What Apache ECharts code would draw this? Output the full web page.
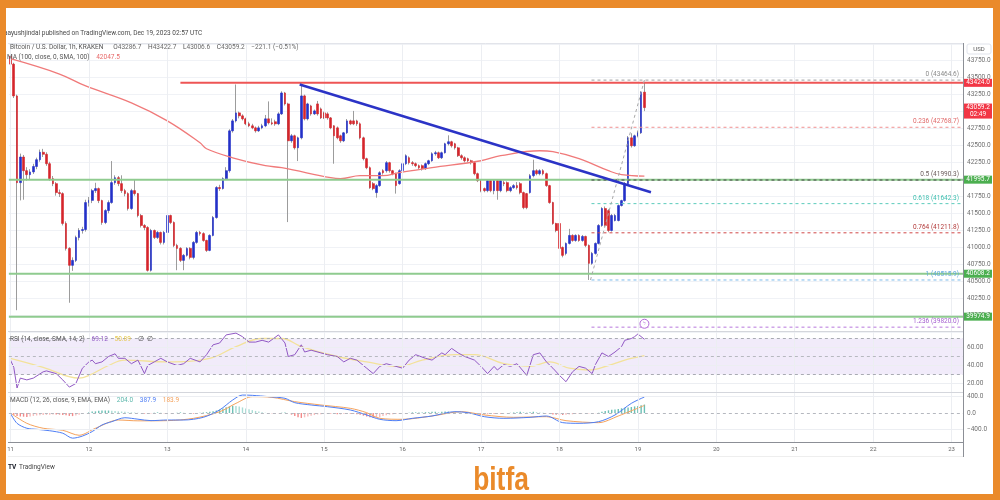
<!DOCTYPE html>
<html>
<head>
<meta charset="utf-8">
<script src="https://cdn.jsdelivr.net/npm/echarts@6/dist/echarts.min.js"></script>
<style>
html,body{margin:0;padding:0;background:#fff;}
#chart{width:1000px;height:500px;}
</style>
</head>
<body>
<div id="chart"></div>
<script>
// ---------------- data ----------------
const dayLabels = ['11','12','13','14','15','16','17','18','19','20','21','22','23'];
const dayHours  = [0,24,48,72,96,120,144,168,192,216,240,264,288];

const openP = [43820,43700,43231,41952,42330,42128,42070,42110,42190,42290,
42400,42370,42231,42011,41937,41805,41790,41350,40982,40732,
40805,41143,41246,41260,41658,41690,41834,41864,41687,41364,
41540,41658,41952,42025,41937,41834,41790,41570,41834,41790,
41467,41320,41290,40658,41246,41143,41217,41070,41217,41467,
41364,41026,40982,40805,40879,40982,40849,41070,41217,41200,
41099,40952,41173,41437,41880,41864,42011,42128,42716,42863,
42981,42937,42893,42820,42790,42760,42716,42760,42790,42893,
42834,42850,42819,42966,43275,43113,42569,42643,42466,42613,
43231,42893,43084,42966,43113,43040,42981,42966,42907,42790,
42760,42643,42569,42687,42863,42863,42863,42819,42613,42305,
42172,41937,41805,41908,42128,42128,42246,42128,42084,41937,
42128,42231,42319,42246,42231,42202,42202,42158,42231,42275,
42378,42393,42319,42393,42525,42555,42525,42466,42349,42319,
42305,42275,42246,42084,41981,41864,41834,41981,41834,41981,
41834,41952,41952,41834,41878,41908,41937,41805,41790,41805,
42055,42128,42084,42128,42084,41908,41658,41349,41349,40996,
40908,41055,41173,41099,41173,41099,41158,41026,40761,40908,
41055,41320,41570,41540,41246,41393,41393,41614,41687,41937,
42613,42496,42643,42687,43286.7];
const closeP = [43700,43231,41952,42330,42128,42070,42110,42190,42290,42400,
42370,42231,42011,41937,41805,41790,41350,40982,40732,40805,
41143,41246,41260,41658,41690,41834,41864,41687,41364,41540,
41658,41952,42025,41937,41834,41790,41570,41834,41790,41467,
41320,41290,40658,41246,41143,41217,41070,41217,41467,41364,
41026,40982,40805,40879,40982,40849,41070,41217,41200,41099,
40952,41173,41437,41880,41864,42011,42128,42716,42863,42981,
42937,42893,42820,42790,42760,42716,42760,42790,42893,42834,
42820,42819,42966,43275,43113,42569,42643,42466,42613,43231,
42893,43113,42966,43010,42966,42907,42907,42907,42760,42643,
42613,42569,42687,42863,42819,42819,42819,42613,42305,42172,
41878,41864,41908,42098,42098,42246,42128,42084,41908,42128,
42231,42349,42246,42231,42202,42172,42158,42231,42275,42378,
42393,42319,42393,42525,42555,42496,42466,42349,42319,42275,
42275,42246,42084,41981,41834,41834,41981,41834,41981,41834,
41981,41937,41834,41878,41908,41878,41805,41584,41584,42055,
42128,42084,42128,42084,41908,41658,41349,41246,40982,40879,
41055,41173,41099,41173,41099,41158,41026,40761,40908,41055,
41320,41570,41320,41246,41467,41467,41614,41687,41937,42613,
42496,42643,42687,43286.7,43059.2];
const lowP = [43650,43200,40070,41690,41700,41980,41990,42080,42150,42260,
42330,42200,41980,41900,41760,41740,41320,40950,40180,40650,
40780,41100,41200,41230,41600,41650,41800,41650,41330,41340,
41500,41640,41920,41900,41800,41750,41540,41550,41760,41440,
41290,41250,40640,40640,41120,41120,41040,41040,41200,41340,
41000,40660,40780,40660,40860,40820,40820,41050,41170,41080,
40930,40940,41160,41420,41830,41850,41990,42100,42690,42840,
42900,42870,42800,42770,42740,42690,42700,42740,42770,42810,
42800,42790,42800,42950,43090,41370,42540,42440,42270,42590,
42870,42870,42940,42950,42940,42890,42890,42880,42740,42231,
42590,42540,42550,42670,42800,42800,42790,42590,42280,42150,
41860,41840,41730,41890,42070,42100,42100,42060,41790,41920,
42110,42210,42220,42200,42180,42150,42130,42140,42210,42260,
42350,42300,42300,42380,42500,42470,42440,42330,42290,42250,
42250,42220,42060,41960,41810,41810,41810,41810,41780,41700,
41810,41900,41810,41810,41860,41850,41780,41560,41560,41790,
42030,42060,42060,42060,41890,41640,41330,41220,40960,40850,
40880,41040,41080,41080,41080,41080,41000,40515.9,40740,40890,
41040,41300,41300,41220,41230,41380,41380,41600,41670,41920,
42470,42480,42620,42670,43006.6];
const highP = [43880,43720,43250,42380,42360,42180,42150,42230,42320,42440,
42450,42400,42260,42050,41960,41850,41810,41380,41000,40850,
41170,41280,41300,41700,41740,41860,41950,41880,41700,41560,
41690,42270,42060,42050,42060,41860,41810,41860,42000,41800,
41490,41340,41310,41270,41260,41240,41230,41240,41500,41480,
41380,41050,41000,40900,41000,41000,41090,41240,41240,41220,
41110,41190,41460,41900,41920,42030,42180,42740,42890,43400,
43000,42960,42910,42850,42820,42780,42790,42820,42950,43150,
42900,42880,42990,43300,43290,43130,42670,42660,42630,43410,
43250,43130,43100,43030,43157,43060,43000,42990,42920,42800,
42780,42660,42700,42890,42880,43010,42880,42840,42630,42320,
42190,41960,41930,42120,42150,42270,42260,42140,42100,42150,
42250,42370,42340,42270,42250,42220,42220,42250,42290,42400,
42420,42410,42410,42540,42650,42570,42540,42480,42370,42340,
42320,42290,42260,42100,42000,41880,42000,42000,42000,42000,
42000,41980,41970,41900,41930,41960,41960,41820,41800,42080,
42290,42150,42150,42150,42100,41920,41670,41360,41360,41010,
41070,41270,41190,41190,41190,41180,41170,41040,40930,41070,
41340,41590,41600,41560,41490,41490,41630,41700,41960,42640,
42680,42660,42720,43300,43422.7];

const maPoints = [[0,43780],[15,43554],[23,43378],[37,43128],[48,42863],[58,42540],[60,42452],[68,42319],
[78,42202],[83,42172],[98,42025],[101,42011],[107,42055],[114,42055],[119,42099],[125,42143],[129,42172],
[144,42275],[150,42349],[162,42422],[166,42408],[174,42305],[183,42128],[187,42070],[194,42047.5]];
const trendPoints = [[88.5,43400],[196,41810]];
const resistanceLevel = 43424.0;
const resistanceFrom = 52;
const supportLevels = [41995.7, 40608.2, 39974.9];
const fibRatios = ['0','0.236','0.5','0.618','0.764','1','1.236'];
const fibValues = [43464.6, 42768.7, 41990.3, 41642.3, 41211.8, 40515.9, 39820.0];
const fibFrom = 177.8;
const fibTrend = [[177.5,40515.9],[194,43464.6]];
const lastClose = 43059.2;
const countdown = '02:49';

const rsiPoints = [[0,46],[1,38],[2,15],[3,26],[5,24],[7,26],[10,33],[11,34],[14,31],[16,24],[18,16],[20,20],
[22,37],[24,44],[25,46],[26,42],[28,44],[30,50],[32,53],[33,48],[35,48],[37,42],[39,46],[41,31],[42,40],[44,44],
[46,48],[48,44],[51,40],[53,42],[55,48],[58,44],[60,52],[62,63],[64,65],[66,74],[69,76],[71,72],[73,66],[75,66],
[77,68],[79,66],[82,74],[84,65],[85,50],[87,52],[89,63],[90,55],[92,57],[95,54],[97,52],[100,50],[102,44],[104,48],
[106,46],[109,37],[111,31],[113,39],[115,42],[118,39],[120,37],[122,46],[124,52],[127,48],[129,46],[132,54],[133,52],
[135,59],[137,54],[139,50],[142,46],[144,39],[146,31],[148,39],[149,35],[151,41],[153,39],[155,42],[158,29],[160,52],
[162,54],[164,44],[166,37],[168,29],[170,22],[172,33],[174,39],[176,37],[178,31],[179,41],[181,54],[183,50],[185,55],
[187,61],[188,68],[190,70],[191,72],[192,75],[194,69.12]];
const rsiMaPoints = [[0,48],[10,38],[21,26],[24,29],[30,40],[35,46],[48,44],[61,48],[69,61],[77,70],[83,70],
[89,61],[100,50],[109,44],[119,39],[126,46],[136,52],[142,52],[151,42],[159,39],[165,44],[171,37],[177,35],
[183,40],[188,46],[194,50.89]];

const macdPoints = [[0,-10],[2,-250],[5,-370],[8,-395],[12,-430],[16,-490],[19,-610],[22,-560],[25,-450],[28,-290],
[31,-210],[35,-115],[39,-150],[43,-185],[48,-170],[53,-170],[59,-105],[64,75],[68,315],[71,435],[74,428],[79,396],
[84,356],[87,250],[92,194],[97,153],[104,73],[109,-48],[113,-153],[118,-186],[123,-129],[129,-73],[136,32],[140,8],
[145,-89],[151,-129],[159,-105],[164,-73],[169,-234],[174,-250],[180,-210],[185,-48],[190,234],[194,387.9]];
const signalPoints = [[0,0],[5,-250],[10,-370],[16,-420],[21,-540],[26,-370],[33,-170],[39,-190],[48,-185],
[56,-130],[64,30],[69,234],[74,396],[80,380],[87,275],[95,194],[104,113],[109,8],[113,-129],[120,-153],[129,-73],
[138,32],[145,-48],[154,-105],[164,-89],[170,-186],[180,-234],[186,-73],[194,183.9]];
const histValues = [-15,-40,-70,-85,-90,-95,-85,-70,-60,-55,
-50,-45,-40,-35,-35,-40,-50,-55,-70,-75,
-60,-40,-20,0,20,35,40,55,60,60,
60,55,50,40,35,30,20,15,10,5,
0,-15,-20,-10,5,15,5,-5,-15,-5,
0,5,15,5,0,-5,-15,-5,5,15,
20,30,40,60,85,110,140,160,175,170,
155,135,110,90,70,50,35,20,5,0,
-5,-15,-5,5,15,0,-40,-70,-105,-120,
-105,-85,-65,-50,-35,-30,-20,-15,-15,-20,
-30,-30,-20,-15,-15,-20,-30,-40,-65,-85,
-105,-120,-110,-100,-75,-55,-40,-30,-20,-15,
-5,0,5,15,15,15,15,20,20,30,
30,20,30,35,35,30,20,15,5,0,
-5,-15,-20,-30,-35,-35,-30,-20,-20,-15,
-15,-5,0,5,15,20,30,20,15,20,
30,20,15,5,-5,-20,-35,-40,-50,-50,
-40,-35,-30,-20,-15,-5,-5,-5,-15,-5,
5,30,50,65,80,85,100,115,130,135,
145,160,170,185,204];

// ---------------- chart ----------------
const FONT = 'Roboto';
const XMIN = -0.5, XMAX = 291.5;
const GL = 8.865, GR = 37;
const chart = echarts.init(document.getElementById('chart'), null, {renderer:'canvas', width:1000, height:500});

const wickData = openP.map((o,i)=>[i, o, closeP[i], lowP[i], highP[i]]);
const bodyData = openP.map((o,i)=>[i, o, closeP[i], Math.min(o, closeP[i]), Math.max(o, closeP[i])]);

function hLine(v, x0, color, width, type, z){
  return {type:'line', xAxisIndex:0, yAxisIndex:0, data:[[x0, v],[XMAX, v]], symbol:'none', silent:true, z:z||3,
    lineStyle:{color, width, type:type||'solid'}};
}
const fibLineColors = ['#A0A0A0','#F09090','#444444','#5CCBBB','#D04848','#7DBBEA','#B878DD'];
const fibTextColors = ['#8a8a8a','#E06A6A','#6b5b5b','#3DBFAF','#B23A3A','#5FA8DC','#A55FD0'];

const vLines = dayHours.map(h=>({xAxis:h}));
const axisLabelStyle = {fontSize:6.5, color:'#707070', fontFamily:FONT, margin:4};

const option = {
  animation:false,
  backgroundColor:'#ffffff',
  textStyle:{fontFamily:FONT},
  grid:[
    {left:GL, right:GR, top:43.8, height:288.1},
    {left:GL, right:GR, top:329.5, height:63},
    {left:GL, right:GR, top:393.2, height:49.5}
  ],
  xAxis:[0,1,2].map(i=>({type:'value', gridIndex:i, min:XMIN, max:XMAX, show:false})),
  yAxis:[
    {type:'value', gridIndex:0, position:'right', min:39750, max:44000, interval:250,
     axisLine:{show:false}, axisTick:{show:false},
     splitLine:{show:true, lineStyle:{color:'#F0F2F6', width:1}},
     axisLabel:Object.assign({}, axisLabelStyle, {showMinLabel:false, showMaxLabel:false, formatter:v=>v.toFixed(1)})},
    {type:'value', gridIndex:1, position:'right', min:10, max:80, interval:10,
     axisLine:{show:false}, axisTick:{show:false}, splitLine:{show:false},
     axisLabel:Object.assign({}, axisLabelStyle, {formatter:v=>(v===20||v===40||v===60)? v.toFixed(2):''})},
    {type:'value', gridIndex:2, position:'right', min:-720, max:480, interval:80,
     axisLine:{show:false}, axisTick:{show:false}, splitLine:{show:false},
     axisLabel:Object.assign({}, axisLabelStyle, {formatter:v=>v===400?'400.0':(v===0?'0.0':(v===-400?'\u2212400.0':''))})}
  ],
  series:[
    {type:'line', xAxisIndex:0, yAxisIndex:0, data:[], z:1, silent:true,
     markLine:{silent:true, symbol:'none', animation:false, label:{show:false},
       lineStyle:{color:'#ECEEF2', width:1, type:'solid'}, data:vLines}},
    {type:'candlestick', xAxisIndex:0, yAxisIndex:0, data:wickData, barWidth:1, z:2, silent:true,
     itemStyle:{color:'#9c9c9c', color0:'#9c9c9c', borderColor:'#9c9c9c', borderColor0:'#9c9c9c', borderWidth:1}},
    {type:'candlestick', xAxisIndex:0, yAxisIndex:0, data:bodyData, barWidth:2.2, z:3, silent:true,
     itemStyle:{color:'#2330C8', color0:'#D5252B', borderColor:'#2330C8', borderColor0:'#D5252B', borderWidth:0.6}},
    {type:'line', xAxisIndex:0, yAxisIndex:0, data:maPoints, smooth:0.4, symbol:'none', silent:true, z:4,
     lineStyle:{color:'#F07A7A', width:1.3}},
    {type:'line', xAxisIndex:0, yAxisIndex:0, data:trendPoints, symbol:'none', silent:true, z:6,
     lineStyle:{color:'#2B33C6', width:2.5}},
    hLine(resistanceLevel, resistanceFrom, '#EE5555', 2, 'solid', 5),
    ...supportLevels.map(v=>hLine(v, XMIN, '#8FCB8F', 2, 'solid', 5)),
    ...fibValues.map((v,i)=>hLine(v, fibFrom, fibLineColors[i], 1, [3,3], 5)),
    {type:'line', xAxisIndex:0, yAxisIndex:0, data:fibTrend, symbol:'none', silent:true, z:5,
     lineStyle:{color:'#A8A8A8', width:1, type:[3,3]}},

    {type:'line', xAxisIndex:1, yAxisIndex:1, data:[], z:1, silent:true,
     markArea:{silent:true, itemStyle:{color:'rgba(149,104,214,0.13)'}, data:[[{yAxis:30},{yAxis:70}]]},
     markLine:{silent:true, symbol:'none', animation:false, label:{show:false},
       data:[
         ...vLines.map(d=>Object.assign({lineStyle:{color:'#ECEEF2', width:1, type:'solid'}}, d)),
         {yAxis:20, lineStyle:{color:'#ECEEF2', width:1, type:'solid'}},
         {yAxis:40, lineStyle:{color:'#ECEEF2', width:1, type:'solid'}},
         {yAxis:60, lineStyle:{color:'#ECEEF2', width:1, type:'solid'}},
         {yAxis:70, lineStyle:{color:'#A9ABB3', width:1, type:[3,3]}},
         {yAxis:50, lineStyle:{color:'#B7B9C0', width:1, type:[3,3]}},
         {yAxis:30, lineStyle:{color:'#A9ABB3', width:1, type:[3,3]}}
       ]}},
    {type:'line', xAxisIndex:1, yAxisIndex:1, data:rsiMaPoints, smooth:0.4, symbol:'none', silent:true, z:3,
     lineStyle:{color:'#F3E29A', width:1.3}},
    {type:'line', xAxisIndex:1, yAxisIndex:1, data:rsiPoints, symbol:'none', silent:true, z:4,
     lineStyle:{color:'#9159C4', width:1}},

    {type:'line', xAxisIndex:2, yAxisIndex:2, data:[], z:1, silent:true,
     markLine:{silent:true, symbol:'none', animation:false, label:{show:false},
       data:[
         ...vLines.map(d=>Object.assign({lineStyle:{color:'#ECEEF2', width:1, type:'solid'}}, d)),
         {yAxis:400, lineStyle:{color:'#ECEEF2', width:1, type:'solid'}},
         {yAxis:-400, lineStyle:{color:'#ECEEF2', width:1, type:'solid'}},
         {yAxis:0, lineStyle:{color:'#B5B8BF', width:1, type:[3,3]}}
       ]}},
    {type:'bar', xAxisIndex:2, yAxisIndex:2, barWidth:1.4, silent:true, z:2,
     data:histValues.map((v,i)=>{
       const p = i>0 ? histValues[i-1] : v;
       const c = v>=0 ? (v>=p ? '#6CC0B5' : '#A9DCD5') : (v<=p ? '#F28A8A' : '#F6BCBC');
       return {value:[i,v], itemStyle:{color:c}};
     })},
    {type:'line', xAxisIndex:2, yAxisIndex:2, data:macdPoints, smooth:0.3, symbol:'none', silent:true, z:4,
     lineStyle:{color:'#4E7EF5', width:1}},
    {type:'line', xAxisIndex:2, yAxisIndex:2, data:signalPoints, smooth:0.3, symbol:'none', silent:true, z:3,
     lineStyle:{color:'#F5A25C', width:1}}
  ]
};
chart.setOption(option);

// ---------------- annotations ----------------
const P = (g,x,y)=>chart.convertToPixel({gridIndex:g},[x,y]);
const G = [];
function txt(x,y,text,fill,size,align,vAlign,z,weight,family){
  return {type:'text', x, y, z:z||20, silent:true,
    style:{text, fill, fontSize:size, fontFamily:family||FONT, fontWeight:weight||'normal', align:align||'left', verticalAlign:vAlign||'middle'}};
}
function line(x1,y1,x2,y2,stroke,w,z){
  return {type:'line', z:z||15, silent:true, shape:{x1,y1,x2,y2}, style:{stroke, lineWidth:w||1}};
}
const RIGHT = 963.5;
G.push(line(8, 43.5, RIGHT, 43.5, '#E2E4EA', 1));
G.push(line(8, 331.5, RIGHT, 331.5, '#D4D6DC', 1));
G.push(line(8, 392.5, RIGHT, 392.5, '#D4D6DC', 1));
G.push(line(8, 442.5, RIGHT, 442.5, '#8C8F96', 1));
G.push(line(8, 456.5, RIGHT, 456.5, '#EEEEEE', 1));
G.push(line(RIGHT, 43, RIGHT, 457, '#8C8F96', 1));

G.push(txt(4, 33.5, 'aayushjindal published on TradingView.com, Dec 19, 2023 02:57 UTC', '#4a4a4a', 6.5));
G.push({type:'text', x:10, y:47.5, z:20, silent:true, style:{
  text:'{g|Bitcoin / U.S. Dollar, 1h, KRAKEN}   {g|O}{v|43286.7}  {g|H}{v|43422.7}  {g|L}{v|43006.6}  {g|C}{v|43059.2}  {v|\u2212221.1 (\u22120.51%)}',
  verticalAlign:'middle', rich:{g:{fill:'#555', fontSize:6.5, fontFamily:FONT}, v:{fill:'#6a6a6a', fontSize:6.5, fontFamily:FONT}}}});
G.push({type:'text', x:7, y:57, z:20, silent:true, style:{
  text:'{g|MA (100, close, 0, SMA, 100)}  {r|42047.5}',
  verticalAlign:'middle', rich:{g:{fill:'#555', fontSize:6.5, fontFamily:FONT}, r:{fill:'#E86A6A', fontSize:6.5, fontFamily:FONT}}}});
G.push({type:'text', x:10, y:339.5, z:20, silent:true, style:{
  text:'{g|RSI (14, close, SMA, 14, 2)}  {p|69.12}  {y|50.89}  {g|\u2205  \u2205}',
  verticalAlign:'middle', rich:{g:{fill:'#555', fontSize:6.5, fontFamily:FONT}, p:{fill:'#9159C4', fontSize:6.5, fontFamily:FONT}, y:{fill:'#E6C84E', fontSize:6.5, fontFamily:FONT}}}});
G.push({type:'text', x:10, y:400.5, z:20, silent:true, style:{
  text:'{g|MACD (12, 26, close, 9, EMA, EMA)}  {t|204.0}  {b|387.9}  {o|183.9}',
  verticalAlign:'middle', rich:{g:{fill:'#555', fontSize:6.5, fontFamily:FONT}, t:{fill:'#5DB8AC', fontSize:6.5, fontFamily:FONT}, b:{fill:'#4E7EF5', fontSize:6.5, fontFamily:FONT}, o:{fill:'#F5A25C', fontSize:6.5, fontFamily:FONT}}}});

fibValues.forEach((v,i)=>{
  const y = P(0, 0, v)[1];
  G.push(txt(959, y-5.5, fibRatios[i]+' ('+v.toFixed(1)+')', fibTextColors[i], 6.5, 'right', 'middle', 20));
});

function box(v, label, color, sub){
  const y = P(0, 0, v)[1];
  const h = sub ? 15 : 8;
  const top = sub ? y-4 : y-h/2;
  G.push({type:'rect', z:40, silent:true, shape:{x:964, y:top, width:28, height:h}, style:{fill:color}});
  G.push(txt(978, top+4, label, '#ffffff', 6.5, 'center', 'middle', 41));
  if (sub) G.push(txt(978, top+11, sub, '#ffffff', 6.5, 'center', 'middle', 41));
}
box(resistanceLevel, resistanceLevel.toFixed(1), '#F23645');
box(lastClose, lastClose.toFixed(1), '#F23645', countdown);
supportLevels.forEach(v=>box(v, v.toFixed(1), '#4CAF50'));

G.push({type:'rect', z:40, silent:true, shape:{x:967, y:44, width:24, height:10, r:2}, style:{fill:'#ffffff', stroke:'#E0E3EB', lineWidth:1}});
G.push(txt(979, 49, 'USD', '#555', 6, 'center', 'middle', 41));

dayHours.forEach((h,i)=>{
  const x = P(2, h, 0)[0];
  G.push(txt(x, 449, dayLabels[i], '#666', 6, 'center', 'middle', 20));
});

const ic = P(0, 194, 39870);
G.push({type:'circle', z:30, silent:true, shape:{cx:ic[0], cy:ic[1], r:4.5}, style:{fill:'#ffffff', stroke:'#B36AD8', lineWidth:1}});
G.push(txt(ic[0], ic[1], '\u03DF', '#B36AD8', 6, 'center', 'middle', 31));

G.push(txt(8, 467, 'TV', '#131722', 6.5, 'left', 'middle', 20, 'bold'));
G.push(txt(19, 467, 'TradingView', '#444', 6.5, 'left', 'middle', 20));
const bitfa = txt(0, 0, 'bitfa', '#EA8A2A', 33, 'center', 'middle', 20, 'bold', '"Liberation Sans Narrow", "Liberation Sans", sans-serif');
bitfa.x = 501; bitfa.y = 481; bitfa.scaleX = 0.8;
G.push(bitfa);

G.push({type:'rect', z:100, silent:true, shape:{x:0, y:0, width:1000, height:8}, style:{fill:'#EA8A2A'}});
G.push({type:'rect', z:100, silent:true, shape:{x:0, y:0, width:6, height:500}, style:{fill:'#EA8A2A'}});
G.push({type:'rect', z:100, silent:true, shape:{x:993, y:0, width:7, height:500}, style:{fill:'#EA8A2A'}});
G.push({type:'rect', z:100, silent:true, shape:{x:0, y:494, width:1000, height:6}, style:{fill:'#EA8A2A'}});

chart.setOption({graphic:{elements:G}});
</script>
</body>
</html>
